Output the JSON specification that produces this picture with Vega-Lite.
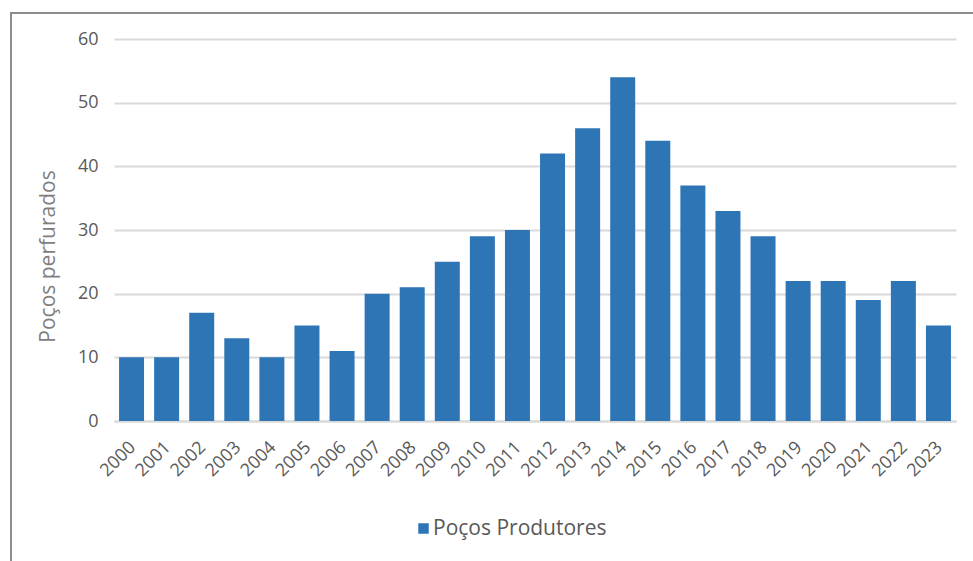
{
  "$schema": "https://vega.github.io/schema/vega-lite/v6.json",
  "width": 842,
  "height": 382,
  "autosize": {"type": "none"},
  "padding": {"left": 114, "top": 39, "right": 17, "bottom": 140},
  "background": "#ffffff",
  "data": {
    "values": [
      {"ano": "2000", "pocos": 10},
      {"ano": "2001", "pocos": 10},
      {"ano": "2002", "pocos": 17},
      {"ano": "2003", "pocos": 13},
      {"ano": "2004", "pocos": 10},
      {"ano": "2005", "pocos": 15},
      {"ano": "2006", "pocos": 11},
      {"ano": "2007", "pocos": 20},
      {"ano": "2008", "pocos": 21},
      {"ano": "2009", "pocos": 25},
      {"ano": "2010", "pocos": 29},
      {"ano": "2011", "pocos": 30},
      {"ano": "2012", "pocos": 42},
      {"ano": "2013", "pocos": 46},
      {"ano": "2014", "pocos": 54},
      {"ano": "2015", "pocos": 44},
      {"ano": "2016", "pocos": 37},
      {"ano": "2017", "pocos": 33},
      {"ano": "2018", "pocos": 29},
      {"ano": "2019", "pocos": 22},
      {"ano": "2020", "pocos": 22},
      {"ano": "2021", "pocos": 19},
      {"ano": "2022", "pocos": 22},
      {"ano": "2023", "pocos": 15}
    ]
  },
  "mark": {"type": "bar"},
  "encoding": {
    "x": {
      "field": "ano",
      "type": "ordinal",
      "scale": {"paddingInner": 0.2875, "paddingOuter": 0.144},
      "axis": {
        "title": null,
        "labelAngle": -45,
        "labelFontSize": 18,
        "labelColor": "#595959",
        "labelPadding": 17,
        "labelOffset": -5,
        "ticks": false,
        "domain": true,
        "domainColor": "#d9d9d9",
        "domainWidth": 2
      }
    },
    "y": {
      "field": "pocos",
      "type": "quantitative",
      "scale": {"domain": [0, 60]},
      "axis": {
        "title": "Poços perfurados",
        "titleFontSize": 21,
        "titleFontWeight": "normal",
        "titleColor": "#7f7f7f",
        "titleX": -66,
        "titleY": 217,
        "titleAngle": -90,
        "titleAlign": "center",
        "titleBaseline": "middle",
        "values": [0, 10, 20, 30, 40, 50, 60],
        "labelFontSize": 18,
        "labelColor": "#595959",
        "labelPadding": 16,
        "ticks": false,
        "domain": false,
        "grid": true,
        "gridColor": "#d9d9d9",
        "gridWidth": 2
      }
    },
    "color": {
      "datum": "Poços Produtores",
      "type": "nominal",
      "scale": {"range": ["#2e75b6"]},
      "legend": {
        "title": null,
        "orient": "none",
        "legendX": 299,
        "legendY": 479,
        "padding": 0,
        "symbolType": "square",
        "symbolSize": 110,
        "symbolStrokeWidth": 0,
        "labelFontSize": 21,
        "labelLimit": 0,
        "labelColor": "#595959",
        "labelOffset": -1
      }
    },
    "opacity": {
      "datum": "moldura",
      "type": "nominal",
      "scale": {"range": [1]},
      "legend": {
        "title": null,
        "orient": "none",
        "legendX": -103,
        "legendY": -26,
        "padding": 500,
        "strokeColor": "#8c8c8c",
        "symbolOpacity": 0,
        "symbolSize": 0,
        "symbolStrokeWidth": 0,
        "symbolFillColor": "transparent",
        "symbolStrokeColor": "transparent",
        "labelExpr": "''",
        "labelFontSize": 1
      }
    }
  },
  "config": {
    "font": "Open Sans",
    "view": {"stroke": null},
    "legend": {"strokeWidth": 2}
  }
}
